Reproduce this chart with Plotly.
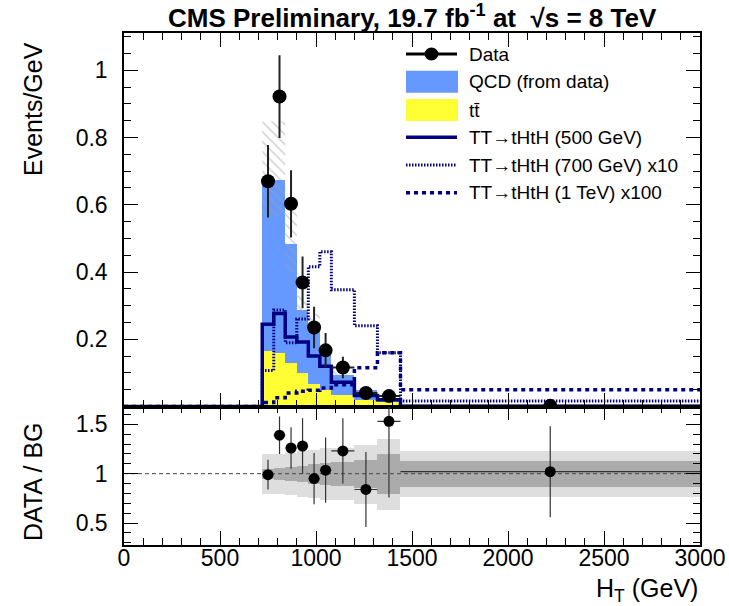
import plotly.graph_objects as go

# ---------------- data ----------------
edges = [720, 780, 840, 900, 960, 1020, 1080, 1200, 1320, 1440, 3000]
ttbar = [0.165, 0.160, 0.130, 0.100, 0.066, 0.050, 0.033, 0.020, 0.012, 0.001]
qcd = [0.508, 0.513, 0.353, 0.187, 0.181, 0.112, 0.062, 0.028, 0.008, 0.001]
bkg_unc_lo = [0.565, 0.565, 0.400, 0.245, 0.220, 0.140, 0.082, 0.040, 0.015, 0.0015]
bkg_unc_hi = [0.848, 0.848, 0.580, 0.330, 0.275, 0.185, 0.108, 0.056, 0.026, 0.003]
sig500 = [0.245, 0.277, 0.207, 0.192, 0.150, 0.120, 0.072, 0.033, 0.020, 0.001]
sig700x10 = [0.107, 0.287, 0.190, 0.260, 0.416, 0.460, 0.347, 0.240, 0.160, 0.016]
sig1000x100 = [0.012, 0.026, 0.040, 0.045, 0.048, 0.055, 0.065, 0.115, 0.160, 0.050]
data = [0.670, 0.922, 0.603, 0.369, 0.235, 0.167, 0.116, 0.040, 0.031, 0.002]
data_err = [0.108, 0.123, 0.100, 0.077, 0.062, 0.052, 0.032, 0.018, 0.015, 0.001]
ratio = [0.99, 1.39, 1.26, 1.28, 0.95, 1.035, 1.23, 0.84, 1.53, 1.02]
ratio_err = [0.15, 0.19, 0.21, 0.28, 0.26, 0.33, 0.33, 0.38, 0.77, 0.46]
band_total = [0.20, 0.20, 0.21, 0.23, 0.24, 0.26, 0.26, 0.30, 0.36, 0.23]
band_stat = [0.05, 0.06, 0.07, 0.08, 0.10, 0.11, 0.12, 0.14, 0.20, 0.13]

legend_labels = ["Data", "QCD (from data)", "tt\u0304",
                 "TT\u2192tHtH (500 GeV)", "TT\u2192tHtH (700 GeV) x10",
                 "TT\u2192tHtH (1 TeV) x100"]

centers = [(a + b) / 2 for a, b in zip(edges[:-1], edges[1:])]
widths = [b - a for a, b in zip(edges[:-1], edges[1:])]
half = [w / 2 for w in widths]

FONT = "Liberation Sans, Arial, Helvetica, sans-serif"
NAVY = "#000080"
BLUE = "#6699ff"
YELLOW = "#ffff33"


def step_xy(vals):
    xs, ys = [0], [0]
    for i, v in enumerate(vals):
        xs.append(edges[i])
        ys.append(v)
    xs.append(edges[-1])
    ys.append(vals[-1])
    return xs, ys


def band_poly(lo, hi):
    xs, ys = [], []
    for i in range(len(hi)):
        xs += [edges[i], edges[i + 1]]
        ys += [hi[i], hi[i]]
    for i in reversed(range(len(lo))):
        xs += [edges[i + 1], edges[i]]
        ys += [lo[i], lo[i]]
    return xs + [xs[0]], ys + [ys[0]]


fig = go.Figure()

# stacked backgrounds
fig.add_trace(go.Bar(x=centers, y=ttbar, width=widths, marker=dict(color=YELLOW, line=dict(width=0)),
                     xaxis="x", yaxis="y", showlegend=False))
fig.add_trace(go.Bar(x=centers, y=qcd, base=ttbar, width=widths, marker=dict(color=BLUE, line=dict(width=0)),
                     xaxis="x", yaxis="y", showlegend=False))

# hatched uncertainty
hx, hy = band_poly(bkg_unc_lo, bkg_unc_hi)
fig.add_trace(go.Scatter(x=hx, y=hy, mode="lines", fill="toself", line=dict(width=0),
                         fillcolor="rgba(0,0,0,0)",
                         fillpattern=dict(shape="\\", fgcolor="#a0a0a0", bgcolor="rgba(0,0,0,0)",
                                          size=7, solidity=0.22),
                         xaxis="x", yaxis="y", showlegend=False, hoverinfo="skip"))

# signals
sx, sy = step_xy(sig700x10)
fig.add_trace(go.Scatter(x=sx, y=sy, mode="lines", line=dict(color=NAVY, width=3, dash="1.5px,1.5px", shape="hv"),
                         xaxis="x", yaxis="y", showlegend=False))
sx, sy = step_xy(sig1000x100)
fig.add_trace(go.Scatter(x=sx, y=sy, mode="lines", line=dict(color=NAVY, width=3.5, dash="4px,4px", shape="hv"),
                         xaxis="x", yaxis="y", showlegend=False))
sx, sy = step_xy(sig500)
fig.add_trace(go.Scatter(x=sx, y=sy, mode="lines", line=dict(color=NAVY, width=3.5, shape="hv"),
                         xaxis="x", yaxis="y", showlegend=False))

# data
fig.add_trace(go.Scatter(x=centers, y=data, mode="markers",
                         marker=dict(color="black", size=14),
                         error_y=dict(type="data", array=data_err, color="#222", thickness=2, width=0),
                         error_x=dict(type="data", array=half, color="#222", thickness=2, width=0),
                         xaxis="x", yaxis="y", showlegend=False))

# ratio panel bands
fig.add_trace(go.Bar(x=centers, y=[2 * t for t in band_total], base=[1 - t for t in band_total], width=widths,
                     marker=dict(color="#dedede", line=dict(width=0)), xaxis="x2", yaxis="y2", showlegend=False))
fig.add_trace(go.Bar(x=centers, y=[2 * t for t in band_stat], base=[1 - t for t in band_stat], width=widths,
                     marker=dict(color="#ababab", line=dict(width=0)), xaxis="x2", yaxis="y2", showlegend=False))
fig.add_trace(go.Scatter(x=[0, 3000], y=[1, 1], mode="lines", line=dict(color="#444", width=1, dash="4px,3px"),
                         xaxis="x2", yaxis="y2", showlegend=False))
fig.add_trace(go.Scatter(x=centers, y=ratio, mode="markers",
                         marker=dict(color="black", size=11),
                         error_y=dict(type="data", array=ratio_err, color="#333", thickness=1.2, width=0),
                         error_x=dict(type="data", array=half, color="#333", thickness=1.2, width=0),
                         xaxis="x2", yaxis="y2", showlegend=False))

# ---------------- layout ----------------
W, H = 729, 606
L, R, T, B = 124, 29, 33, 61
PW, PH = W - L - R, H - T - B
split = (545 - 406.5) / PH


def px(xp):
    return (xp - L) / PW


def py(yp):
    return (H - B - yp) / PH


axis_common = dict(showline=True, linecolor="black", linewidth=1.5, mirror="allticks",
                   ticks="inside", tickcolor="black", tickwidth=1.2, showgrid=False, zeroline=False,
                   automargin=False,
                   tickfont=dict(family=FONT, size=23, color="black"))

fig.update_layout(
    width=W, height=H, margin=dict(l=L, r=R, t=T, b=B, autoexpand=False),
    paper_bgcolor="white", plot_bgcolor="white",
    barmode="overlay", bargap=0,
    showlegend=False,
    xaxis=dict(domain=[0, 1], anchor="y", range=[0, 3000], dtick=500, ticklen=14, showticklabels=False,
               minor=dict(dtick=100, ticklen=7, ticks="inside", tickcolor="black", showgrid=False),
               **axis_common),
    yaxis=dict(domain=[split, 1], anchor="x", range=[0, 1.111], tickvals=[0.2, 0.4, 0.6, 0.8, 1.0],
               ticktext=["0.2", "0.4", "0.6", "0.8", "1"], ticklen=14, ticklabelstandoff=10,
               minor=dict(dtick=0.05, tick0=0, ticklen=7, ticks="inside", tickcolor="black", showgrid=False),
               **axis_common),
    xaxis2=dict(domain=[0, 1], anchor="y2", range=[0, 3000], dtick=500, ticklen=14, matches="x",
                minor=dict(dtick=100, ticklen=7, ticks="inside", tickcolor="black", showgrid=False),
                ticklabelstandoff=-8, **axis_common),
    yaxis2=dict(domain=[0, split], anchor="x2", range=[0.278, 1.68], tickvals=[0.5, 1.0, 1.5],
                ticktext=["0.5", "1", "1.5"], ticklen=14, ticklabelstandoff=10,
                minor=dict(dtick=0.1, tick0=0, ticklen=7, ticks="inside", tickcolor="black", showgrid=False),
                **axis_common),
)

annotations = [
    dict(text="<b>CMS Preliminary, 19.7 fb<sup>-1</sup> at  \u221as = 8 TeV</b>", x=px(412), y=py(16),
         xanchor="center", yanchor="middle", font=dict(family=FONT, size=26, color="black")),
    dict(text="Events/GeV", x=px(33), y=py(40), xanchor="center", yanchor="top", textangle=-90,
         font=dict(family=FONT, size=25, color="black")),
    dict(text="DATA / BG", x=px(33), y=py(482), xanchor="center", yanchor="middle", textangle=-90,
         font=dict(family=FONT, size=25, color="black")),
    dict(text="H<sub>T</sub> (GeV)", x=px(700), y=py(590), xanchor="right", yanchor="middle",
         font=dict(family=FONT, size=25, color="black")),
]

# manual legend (paper coordinates)
rows_y = [54, 81.7, 110, 137.3, 165, 192.7]
sym_x0, sym_x1, text_x = 406, 457, 467
for lab, yy in zip(legend_labels, rows_y):
    annotations.append(dict(text=lab, x=px(text_x), y=py(yy), xanchor="left", yanchor="middle",
                            font=dict(family=FONT, size=19, color="black")))
for a in annotations:
    a.update(xref="paper", yref="paper", showarrow=False)

shapes = []
# Data: line + marker
shapes.append(dict(type="line", xref="paper", yref="paper", x0=px(sym_x0), x1=px(sym_x1),
                   y0=py(rows_y[0]), y1=py(rows_y[0]), line=dict(color="black", width=3)))
shapes.append(dict(type="circle", xref="paper", yref="paper", x0=px(431.5 - 7), x1=px(431.5 + 7),
                   y0=py(rows_y[0] + 6.5), y1=py(rows_y[0] - 6.5), fillcolor="black", line=dict(width=0)))
# QCD box
shapes.append(dict(type="rect", xref="paper", yref="paper", x0=px(sym_x0), x1=px(sym_x1 + 1),
                   y0=py(rows_y[1] + 11), y1=py(rows_y[1] - 11), fillcolor=BLUE, line=dict(width=0)))
# ttbar box
shapes.append(dict(type="rect", xref="paper", yref="paper", x0=px(sym_x0), x1=px(sym_x1 + 1),
                   y0=py(rows_y[2] + 11), y1=py(rows_y[2] - 11), fillcolor=YELLOW, line=dict(width=0)))
# signal lines
for yy, dash, wd in [(rows_y[3], "solid", 3.5), (rows_y[4], "1.5px,1.5px", 3), (rows_y[5], "4px,4px", 3.5)]:
    shapes.append(dict(type="line", xref="paper", yref="paper", x0=px(sym_x0), x1=px(sym_x1),
                       y0=py(yy), y1=py(yy), line=dict(color=NAVY, width=wd, dash=dash)))

fig.update_layout(annotations=annotations, shapes=shapes)

fig.write_html("out.html", config={"displayModeBar": False},
               post_script="document.body.style.margin='0';document.body.style.overflow='hidden';")
